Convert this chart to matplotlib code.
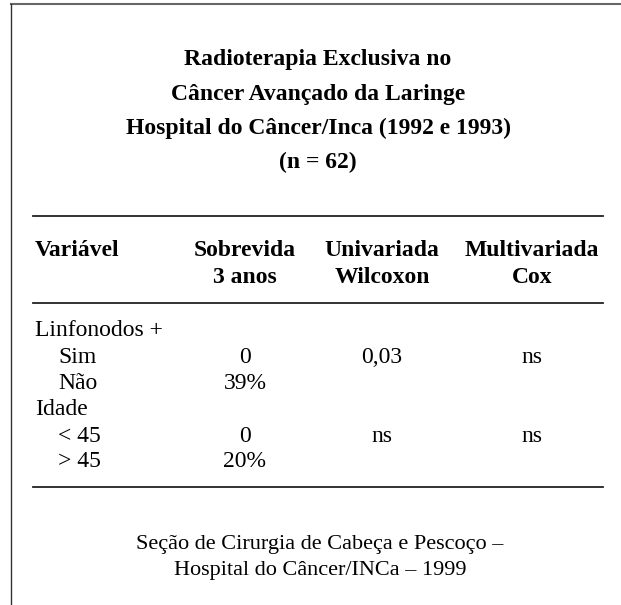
import matplotlib
matplotlib.use("Agg")
import matplotlib.pyplot as plt

title_lines = ["Radioterapia Exclusiva no", "Câncer Avançado da Laringe",
               "Hospital do Câncer/Inca (1992 e 1993)", "(n = 62)"]
col_headers = ["Variável", "Sobrevida\n3 anos", "Univariada\nWilcoxon", "Multivariada\nCox"]
row_labels = ["Linfonodos +", "Sim", "Não", "Idade", "< 45", "> 45"]
row_indent = [False, True, True, False, True, True]
survival = ["", "0", "39%", "", "0", "20%"]
wilcoxon = ["", "0,03", "", "", "ns", ""]
cox = ["", "ns", "", "", "ns", ""]
footer = ["Seção de Cirurgia de Cabeça e Pescoço –", "Hospital do Câncer/INCa – 1999"]

W, H = 621, 605
fig = plt.figure(figsize=(W / 100, H / 100), dpi=100)
ax = fig.add_axes([0, 0, 1, 1])
ax.set_xlim(0, W)
ax.set_ylim(H, 0)
ax.axis("off")

font = "Liberation Serif"
fs = 17

# frame lines (top and left)
ax.plot([11, W], [4, 4], color="#666666", lw=1.5)
ax.plot([11, 11], [4, H], color="#333333", lw=1.0)

# title
title_y = [65, 100, 134, 168]
for y, t in zip(title_y, title_lines):
    ax.text(318, y, t, family=font, fontsize=fs, fontweight="bold",
            ha="center", va="baseline")

# rules
for y in (215.5, 303, 487):
    ax.plot([33, 603], [y, y], color="#222222", lw=1.3)

col_x = [35, 245, 382, 532]
# headers
ax.text(col_x[0], 256, col_headers[0], family=font, fontsize=fs, fontweight="bold",
        ha="left", va="baseline")
for x, h in zip(col_x[1:], col_headers[1:]):
    a, b = h.split("\n")
    ax.text(x, 256, a, family=font, fontsize=fs, fontweight="bold", ha="center", va="baseline")
    ax.text(x, 283, b, family=font, fontsize=fs, fontweight="bold", ha="center", va="baseline")

row_y = [336, 363, 389, 415, 442, 467]
for y, lab, ind, s, w, c in zip(row_y, row_labels, row_indent, survival, wilcoxon, cox):
    ax.text(58 if ind else 35, y, lab, family=font, fontsize=fs, ha="left", va="baseline")
    for x, v in zip(col_x[1:], (s, w, c)):
        if v:
            ax.text(x, y, v, family=font, fontsize=fs, ha="center", va="baseline")

footer_y = [549, 575]
for y, t in zip(footer_y, footer):
    ax.text(320, y, t, family=font, fontsize=16, ha="center", va="baseline")

fig.savefig("out.png", dpi=100)
